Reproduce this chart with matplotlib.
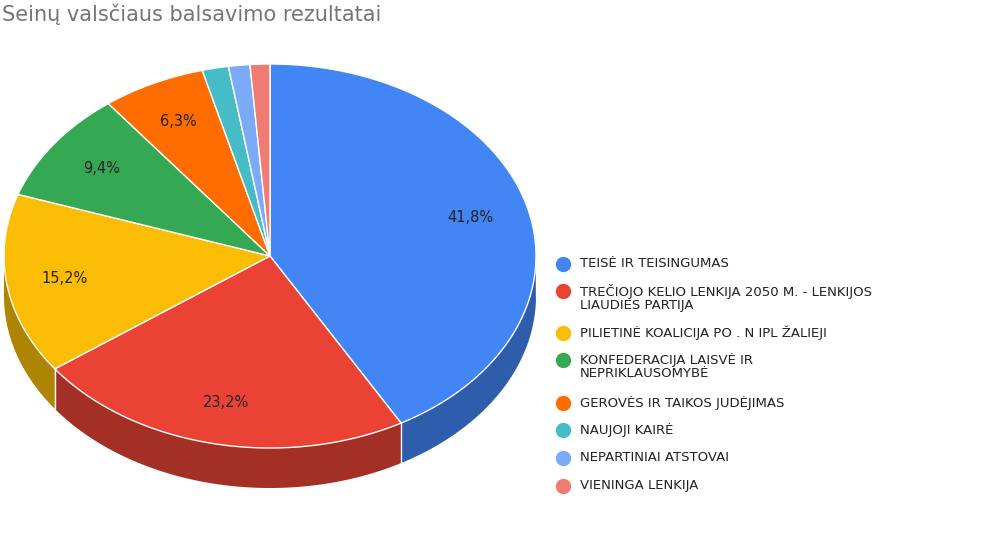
import numpy as np
import matplotlib
matplotlib.use("Agg")
import matplotlib.pyplot as plt
from matplotlib.colors import to_rgb

labels = ["TEISĖ IR TEISINGUMAS",
          "TREČIOJO KELIO LENKIJA 2050 M. - LENKIJOS\nLIAUDIES PARTIJA",
          "PILIETINĖ KOALICIJA PO . N IPL ŽALIEJI",
          "KONFEDERACIJA LAISVĖ IR\nNEPRIKLAUSOMYBĖ",
          "GEROVĖS IR TAIKOS JUDĖJIMAS",
          "NAUJOJI KAIRĖ",
          "NEPARTINIAI ATSTOVAI",
          "VIENINGA LENKIJA"]
values = [41.8, 23.2, 15.2, 9.4, 6.3, 1.6, 1.3, 1.2]
colors = ["#4285F4", "#EA4335", "#FBBC04", "#34A853", "#FF6D01", "#46BDC6", "#7BAAF7", "#F07B72"]

fig = plt.figure(figsize=(9.94, 5.45), dpi=100)
ax = fig.add_axes([0, 0, 1, 1])
ax.set_xlim(0, 994); ax.set_ylim(545, 0); ax.axis("off")

cx, cy, rx, ry, depth = 270, 256, 266, 192, 40
def pt(t):
    return cx + rx*np.sin(t), cy - ry*np.cos(t)

total = sum(values)
angles = np.cumsum([0] + values) / total * 2*np.pi
dark = lambda c: tuple(v*0.7 for v in to_rgb(c))

for i, c in enumerate(colors):
    a0, a1 = max(angles[i], np.pi/2), min(angles[i+1], 3*np.pi/2)
    if a1 <= a0: continue
    t = np.linspace(a0, a1, 100)
    x, y = pt(t)
    xs = np.concatenate([x, x[::-1]]); ys = np.concatenate([y, y[::-1]+depth])
    ax.fill(xs, ys, color=dark(c), lw=0)
    ax.plot([x[0], x[0]], [y[0], y[0]+depth], color="white", lw=1)
for i, c in enumerate(colors):
    t = np.linspace(angles[i], angles[i+1], 200)
    x, y = pt(t)
    ax.fill(np.r_[cx, x], np.r_[cy, y], facecolor=c, edgecolor="white", lw=1)
    if values[i] >= 5:
        m = (angles[i]+angles[i+1])/2
        lx, ly = cx + 0.78*rx*np.sin(m), cy - 0.78*ry*np.cos(m)
        ax.text(lx, ly, f"{values[i]:.1f}%".replace(".", ","), ha="center", va="center",
                fontsize=10.5, color="#222222")

ax.text(2, 14, "Seinų valsčiaus balsavimo rezultatai", fontsize=15, color="#757575", va="center")

ys = [264, 291, 333, 360, 403, 430, 458, 486]
for yv, lab, c in zip(ys, labels, colors):
    ax.plot(563, yv, "o", ms=10, color=c)
    ax.text(580, yv - 7, lab, fontsize=9.5, color="#222222", va="top", linespacing=1.0)

fig.savefig("out.png", dpi=100)
